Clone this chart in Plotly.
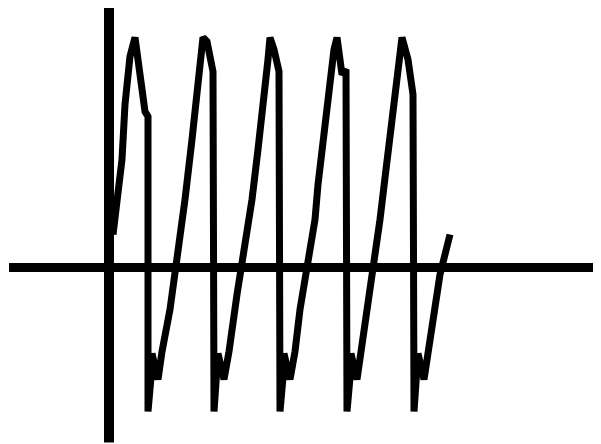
import plotly.graph_objects as go

# Waveform readings (x position, signal value; horizontal axis at 0)
wave_x = [113, 118, 122, 125, 130, 135, 140, 145, 148,
          148, 151, 152, 158, 162,
          170, 177, 185, 192, 197, 200, 203, 207, 213,
          214, 217, 218, 224, 229,
          237, 244, 252, 258, 263, 268, 270, 274, 279,
          280, 283, 284, 290, 295,
          300, 305, 311, 315, 318, 322, 326, 330, 334, 337, 342, 346,
          347, 350, 351, 357, 361,
          368, 374, 380, 386, 391, 396, 399, 402, 408, 413,
          414, 417, 418, 424, 428,
          434, 440, 445, 450]
wave_y = [33, 73, 108, 163, 211, 230, 196, 156, 151,
          -144, -110, -86, -112, -84,
          -42, 8, 68, 128, 178, 208, 230, 226, 196,
          -144, -110, -86, -112, -84,
          -27, 18, 68, 118, 158, 208, 230, 218, 196,
          -144, -110, -86, -112, -84,
          -42, -12, 18, 48, 83, 118, 153, 178, 218, 230, 193, 198,
          -144, -110, -86, -112, -84,
          -42, -2, 48, 98, 138, 178, 213, 230, 208, 173,
          -144, -110, -86, -112, -84,
          -42, -7, 13, 33]

# Axis extents
h_axis_x = [9, 601]
h_axis_y = [0, 0]
v_axis_x = [109, 109]
v_axis_y = [263, -175]

fig = go.Figure()
fig.add_trace(go.Scatter(x=h_axis_x, y=h_axis_y, mode="lines",
                         line=dict(color="black", width=9), hoverinfo="skip"))
fig.add_trace(go.Scatter(x=v_axis_x, y=v_axis_y, mode="lines",
                         line=dict(color="black", width=10), hoverinfo="skip"))
fig.add_trace(go.Scatter(x=wave_x, y=wave_y, mode="lines",
                         line=dict(color="black", width=7), hoverinfo="skip"))

# The page body has an 8px margin, so the figure is sized to fit the window
fig.update_layout(
    width=593, height=436,
    margin=dict(l=0, r=0, t=0, b=0),
    paper_bgcolor="white", plot_bgcolor="white",
    showlegend=False,
    xaxis=dict(range=[8, 601], visible=False, fixedrange=True),
    yaxis=dict(range=[-176.5, 259.5], visible=False, fixedrange=True),
)
fig.write_html("out.html", config={"displayModeBar": False})
